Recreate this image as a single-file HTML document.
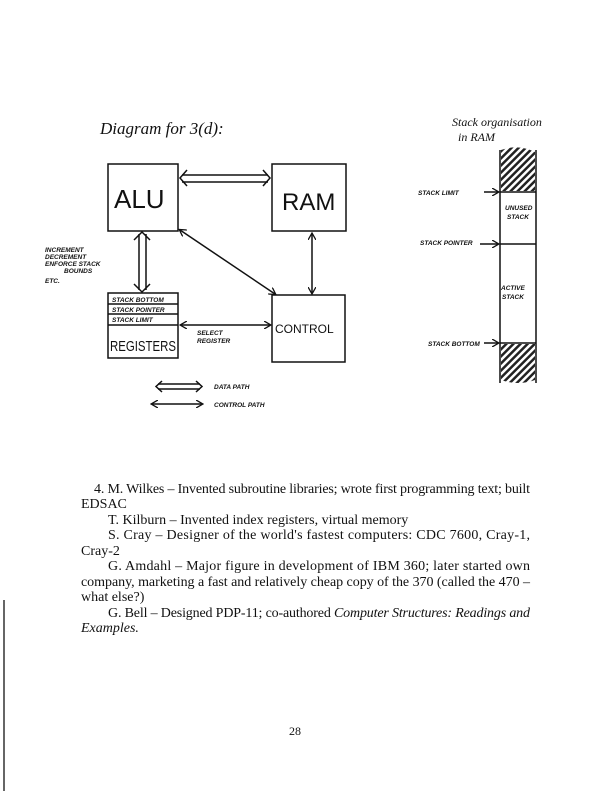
<!DOCTYPE html>
<html><head><meta charset="utf-8"><style>
html,body{margin:0;padding:0;background:#fff;}
svg{display:block;}
.h{font-family:"Liberation Sans",sans-serif;font-weight:bold;}
.t{font-family:"Liberation Serif",serif;font-size:14px;fill:#111;}
</style></head><body>
<svg width="612" height="791" viewBox="0 0 612 791" xmlns="http://www.w3.org/2000/svg">
<defs>
<pattern id="hat" width="5" height="5" patternUnits="userSpaceOnUse" patternTransform="rotate(45)">
<rect width="5" height="5" fill="#fff"/><rect width="2.5" height="5" fill="#222"/></pattern>
<marker id="ar" markerWidth="8" markerHeight="8" refX="6" refY="4" orient="auto-start-reverse" markerUnits="userSpaceOnUse"><path d="M0,0 L7,4 L0,8" fill="none" stroke="#111" stroke-width="1.3"/></marker>
</defs>
<line x1="4" y1="600" x2="4" y2="791" stroke="#333" stroke-width="1.5"/>
<text x="100" y="134" font-family="Liberation Serif,serif" font-style="italic" font-size="17" fill="#111">Diagram for 3(d):</text>
<text x="452" y="126" font-family="Liberation Serif,serif" font-style="italic" font-size="12" fill="#111">Stack organisation</text>
<text x="458" y="141" font-family="Liberation Serif,serif" font-style="italic" font-size="12" fill="#111">in RAM</text>
<g fill="none" stroke="#111" stroke-width="1.5">
<rect x="108" y="164" width="70" height="67"/>
<rect x="272" y="164" width="74" height="67"/>
<rect x="272" y="295" width="73" height="67"/>
<rect x="108" y="293" width="70" height="65"/>
<line x1="108" y1="304" x2="178" y2="304"/>
<line x1="108" y1="314" x2="178" y2="314"/>
<line x1="108" y1="325" x2="178" y2="325"/>
<line x1="182" y1="175" x2="268" y2="175"/><line x1="182" y1="182" x2="268" y2="182"/>
<path d="M187,170 L180,178 L187,186 M263,170 L270,178 L263,186"/>
<line x1="139" y1="234" x2="139" y2="290"/><line x1="146" y1="234" x2="146" y2="290"/>
<path d="M134,240 L142,232 L150,240 M134,284 L142,292 L150,284"/>
<line x1="180" y1="230" x2="275" y2="294" marker-end="url(#ar)" marker-start="url(#ar)"/>
<line x1="312" y1="234" x2="312" y2="293" marker-end="url(#ar)" marker-start="url(#ar)"/>
<line x1="181" y1="325" x2="270" y2="325" marker-end="url(#ar)" marker-start="url(#ar)"/>
<line x1="158" y1="384" x2="200" y2="384"/><line x1="158" y1="389" x2="200" y2="389"/>
<path d="M162,381 L156,386.5 L162,392 M196,381 L202,386.5 L196,392"/>
<line x1="152" y1="404" x2="202" y2="404" marker-end="url(#ar)" marker-start="url(#ar)"/>
<line x1="500" y1="150" x2="500" y2="383"/><line x1="536" y1="150" x2="536" y2="383"/>
<line x1="500" y1="192" x2="536" y2="192"/>
<line x1="500" y1="244" x2="536" y2="244"/>
<line x1="500" y1="343" x2="536" y2="343"/>
<line x1="484" y1="192" x2="498" y2="192" marker-end="url(#ar)"/>
<line x1="480" y1="244" x2="498" y2="244" marker-end="url(#ar)"/>
<line x1="484" y1="343" x2="498" y2="343" marker-end="url(#ar)"/>
</g>
<path d="M501,150 Q518,144 535,152 L535,191 L501,191 Z" fill="url(#hat)"/>
<path d="M501,344 L535,344 L535,380 Q518,386 501,380 Z" fill="url(#hat)"/>
<text x="114" y="208" font-family="Liberation Sans,sans-serif" font-size="26" fill="#111">ALU</text>
<text x="282" y="210" font-family="Liberation Sans,sans-serif" font-size="24" fill="#111">RAM</text>
<text x="275" y="333" font-family="Liberation Sans,sans-serif" font-size="12" fill="#111">CONTROL</text>
<text x="110" y="351" font-family="Liberation Sans,sans-serif" font-size="15" fill="#111" textLength="66" lengthAdjust="spacingAndGlyphs">REGISTERS</text>
<g class="h" font-size="6.5" fill="#111" font-style="italic">
<text x="112" y="302">STACK BOTTOM</text>
<text x="112" y="312">STACK POINTER</text>
<text x="112" y="322">STACK LIMIT</text>
<text x="45" y="252">INCREMENT</text><text x="45" y="259">DECREMENT</text><text x="45" y="266">ENFORCE STACK</text><text x="64" y="273">BOUNDS</text><text x="45" y="283">ETC.</text>
<text x="197" y="335">SELECT</text><text x="197" y="343">REGISTER</text>
<text x="214" y="389">DATA PATH</text><text x="214" y="407">CONTROL PATH</text>
<text x="418" y="195">STACK LIMIT</text>
<text x="420" y="245">STACK POINTER</text>
<text x="428" y="346">STACK BOTTOM</text>
<text x="505" y="210">UNUSED</text><text x="507" y="219">STACK</text>
<text x="501" y="290">ACTIVE</text><text x="502" y="299">STACK</text>
</g>
<g class="t">
<text x="94" y="493" textLength="436" lengthAdjust="spacing">4. M. Wilkes – Invented subroutine libraries; wrote first programming text; built</text>
<text x="81" y="508">EDSAC</text>
<text x="108" y="524">T. Kilburn – Invented index registers, virtual memory</text>
<text x="108" y="539" textLength="422" lengthAdjust="spacing">S. Cray – Designer of the world's fastest computers: CDC 7600, Cray-1,</text>
<text x="81" y="555">Cray-2</text>
<text x="108" y="570" textLength="422" lengthAdjust="spacing">G. Amdahl – Major figure in development of IBM 360; later started own</text>
<text x="81" y="586" textLength="449" lengthAdjust="spacing">company, marketing a fast and relatively cheap copy of the 370 (called the 470 –</text>
<text x="81" y="601">what else?)</text>
<text x="108" y="617" textLength="422" lengthAdjust="spacing">G. Bell – Designed PDP-11; co-authored <tspan font-style="italic">Computer Structures: Readings and</tspan></text>
<text x="81" y="632" font-style="italic">Examples.</text>
<text x="289" y="735" font-size="12">28</text>
</g>
</svg>
</body></html>
